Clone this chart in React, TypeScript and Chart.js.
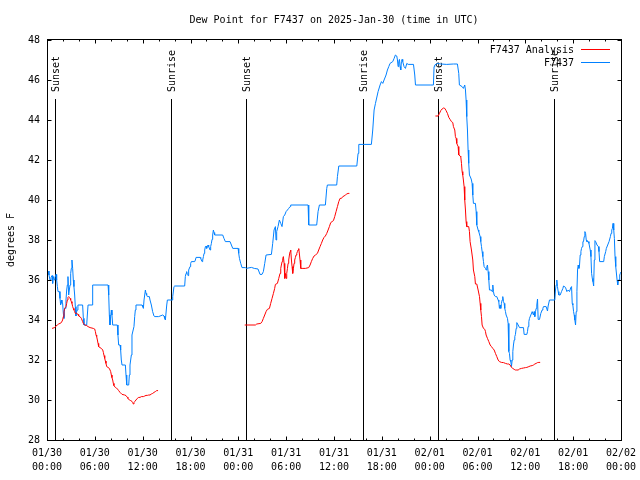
import React, { useEffect, useRef } from "react";
import { Chart, registerables } from "chart.js";

Chart.register(...registerables);

// ---------- text ----------
const TITLE = "Dew Point for F7437 on 2025-Jan-30 (time in UTC)";
const Y_LABEL = "degrees F";
const SERIES_NAMES = ["F7437 Analysis", "F7437"];
const DATE_LABELS = ["01/30", "01/30", "01/30", "01/30", "01/31", "01/31", "01/31", "01/31", "02/01", "02/01", "02/01", "02/01", "02/02"];
const TIME_LABELS = ["00:00", "06:00", "12:00", "18:00", "00:00", "06:00", "12:00", "18:00", "00:00", "06:00", "12:00", "18:00", "00:00"];

// ---------- sun events (hours since 01/30 00:00 UTC) ----------
const SUN_HOURS = [0.95, 15.6, 24.97, 39.68, 49.1, 63.65];
const SUN_LABELS = ["Sunset", "Sunrise", "Sunset", "Sunrise", "Sunset", "Sunrise"];

// ---------- F7437 observations (blue) ----------
const blueHoursDay1 = [0.13, 0.25, 0.38, 0.5, 0.63, 0.71, 0.79, 0.92, 1.0, 1.13, 1.21, 1.3, 1.38, 1.55, 1.63, 1.71, 1.8, 1.88, 1.96, 2.05, 2.13, 2.21, 2.3, 2.38, 2.47, 2.55, 2.63, 2.72, 2.8, 2.89, 2.97, 3.05, 3.13, 3.22, 3.3, 3.38, 3.47, 3.55, 3.63, 3.72, 3.8, 3.88, 4.47, 4.56, 4.64, 4.98, 5.06, 5.15, 5.65, 5.73, 7.66, 7.74, 7.82, 7.9, 7.99, 8.07, 8.15, 8.24, 8.82, 8.9, 8.99, 9.16, 9.24, 9.32, 9.41, 9.83, 9.91, 10.0, 10.25, 10.33, 10.41, 10.58, 10.66, 10.91, 11.0, 11.08, 11.16, 11.92, 12.0, 12.09, 12.17, 12.34, 12.42, 12.5, 12.59, 12.84, 12.92, 13.09, 13.25, 13.42, 13.5, 14.0, 14.51, 14.68, 14.76, 14.85, 15.02, 15.1, 15.68, 15.77, 15.93, 16.02, 17.27, 17.35, 17.44, 17.52, 17.6, 17.69, 17.77, 17.94, 18.02, 18.11, 18.53, 18.61, 18.7, 19.2, 19.28, 19.36, 19.45, 19.53, 19.62, 19.7, 19.78, 19.87, 19.95, 20.03, 20.12, 20.2, 20.28, 20.45, 20.53, 20.62, 20.7, 20.78, 20.87, 20.95, 21.03, 22.04, 22.2, 22.37, 22.96, 23.13, 23.3, 23.97, 24.05, 24.14];
const blueDewDay1 = [36.45, 36.25, 36.0, 36.13, 36.22, 35.83, 36.17, 36.0, 36.13, 36.28, 36.0, 35.67, 35.42, 35.42, 35.08, 34.75, 35.0, 34.83, 34.83, 34.33, 34.08, 34.58, 34.58, 35.0, 35.5, 35.75, 36.17, 35.25, 35.5, 35.75, 36.33, 36.58, 37.0, 36.58, 36.0, 35.67, 35.25, 34.67, 34.2, 34.42, 34.5, 34.75, 34.75, 34.08, 33.75, 33.75, 34.25, 34.75, 34.75, 35.75, 35.75, 35.25, 34.25, 33.75, 34.17, 34.5, 34.25, 33.75, 33.75, 33.25, 32.75, 32.75, 32.5, 32.0, 31.75, 31.75, 31.25, 30.75, 30.75, 31.25, 31.75, 32.25, 33.25, 33.67, 34.17, 34.5, 34.75, 34.75, 34.67, 34.58, 35.0, 35.5, 35.33, 35.25, 35.17, 35.17, 35.0, 34.75, 34.42, 34.2, 34.17, 34.17, 34.25, 34.2, 34.08, 34.0, 34.75, 35.0, 35.0, 35.17, 35.67, 35.7, 35.7, 36.17, 36.33, 36.42, 36.28, 36.22, 36.5, 36.67, 36.83, 36.92, 36.92, 37.0, 37.13, 37.13, 37.08, 37.0, 36.92, 37.0, 37.17, 37.33, 37.5, 37.67, 37.7, 37.58, 37.67, 37.75, 37.67, 37.5, 37.67, 37.83, 38.03, 38.25, 38.5, 38.37, 38.25, 38.25, 38.08, 37.92, 37.92, 37.75, 37.58, 37.58, 37.33, 37.08];

const blueHoursDay2 = [24.3, 24.46, 24.88, 25.0, 25.64, 26.0, 26.47, 26.72, 26.97, 27.14, 27.31, 27.48, 28.15, 28.31, 28.48, 28.65, 28.73, 28.81, 28.98, 29.15, 29.32, 29.48, 29.65, 29.82, 29.99, 30.16, 30.32, 30.49, 30.57, 32.75, 32.83, 33.83, 34.0, 34.17, 34.92, 35.09, 35.17, 36.34, 36.43, 36.6, 38.86, 39.02, 39.11, 40.69, 40.86, 41.03, 41.2, 41.53, 41.78, 41.95, 42.12, 42.28, 42.53, 42.7, 42.87, 43.03, 43.37, 43.54, 43.7, 43.87, 43.96, 44.04, 44.12, 44.21, 44.29, 44.37, 44.46, 44.54, 44.62, 44.79, 44.96, 45.13, 45.3, 45.97, 46.13, 46.22, 48.06];
const blueDewDay2 = [36.83, 36.62, 36.62, 36.58, 36.63, 36.58, 36.55, 36.28, 36.28, 36.42, 36.83, 37.25, 37.28, 37.83, 38.5, 38.67, 38.0, 38.42, 38.67, 39.0, 38.83, 38.67, 39.17, 39.25, 39.42, 39.5, 39.58, 39.67, 39.75, 39.75, 38.75, 38.75, 39.42, 39.75, 39.75, 40.58, 40.75, 40.75, 41.17, 41.7, 41.7, 42.33, 42.78, 42.78, 43.5, 44.5, 44.83, 45.42, 45.75, 45.92, 45.83, 46.0, 46.25, 46.5, 46.67, 46.83, 46.92, 47.08, 47.25, 47.2, 47.0, 46.67, 46.92, 47.03, 46.67, 46.5, 46.92, 47.03, 46.92, 46.67, 46.58, 46.83, 46.78, 46.78, 46.25, 45.75, 45.75];

const blueHoursDay3 = [48.47, 48.55, 48.64, 48.97, 49.39, 50.14, 50.98, 51.48, 51.65, 51.73, 52.07, 52.23, 52.4, 52.49, 52.57, 52.65, 52.74, 52.82, 52.9, 52.99, 53.16, 53.24, 53.32, 53.41, 53.49, 53.74, 53.83, 53.91, 54.08, 54.16, 54.33, 54.41, 54.5, 54.58, 54.67, 54.75, 54.83, 55.0, 55.08, 55.17, 55.25, 55.33, 55.42, 55.5, 55.75, 55.84, 55.92, 56.0, 56.09, 56.25, 56.42, 56.59, 56.67, 56.75, 56.84, 56.92, 57.0, 57.09, 57.17, 57.26, 57.34, 57.42, 57.51, 57.59, 57.76, 57.84, 57.93, 58.01, 58.09, 58.18, 58.26, 58.35, 58.43, 58.51, 58.6, 58.68, 58.76, 58.85, 58.93, 59.1, 59.27, 59.77, 59.85, 60.19, 60.27, 60.35, 60.44, 60.52, 60.69, 60.86, 61.02, 61.11, 61.19, 61.27, 61.36, 61.44, 61.53, 61.61, 61.78, 61.94, 62.11, 62.2, 62.28, 62.61, 62.78, 62.86, 63.03, 63.7, 63.78, 63.87, 63.95, 64.03, 64.12, 64.2, 64.37, 64.54, 64.71, 64.79, 65.04, 65.21, 65.38, 65.54, 65.71, 65.8, 65.88, 65.96, 66.05, 66.13, 66.21, 66.3, 66.38, 66.47, 66.55, 66.63, 66.72, 66.8, 66.88, 66.97, 67.05, 67.14, 67.22, 67.3, 67.39, 67.47, 67.56, 67.64, 67.72, 67.89, 67.98, 68.14, 68.23, 68.31, 68.4, 68.48, 68.57, 68.65, 68.73, 68.82, 68.99, 69.16, 69.24, 69.32, 69.83, 69.91, 70.08, 70.16, 70.33, 70.5, 70.67, 70.75, 70.84, 70.92, 71.0, 71.09, 71.17, 71.25, 71.34, 71.51, 71.59, 71.67, 71.76, 71.84, 71.92, 72.0];
const blueDewDay3 = [45.75, 46.67, 46.75, 46.83, 46.8, 46.78, 46.8, 46.8, 46.33, 45.75, 45.67, 45.58, 45.75, 45.5, 45.0, 44.17, 43.5, 42.5, 41.83, 41.25, 41.1, 41.0, 40.83, 40.25, 39.83, 39.83, 39.42, 38.75, 38.5, 38.42, 38.17, 37.92, 37.67, 37.42, 37.17, 36.92, 36.67, 36.58, 36.5, 36.67, 36.75, 36.42, 36.0, 35.5, 35.5, 35.42, 35.75, 35.42, 35.25, 35.17, 35.17, 35.0, 34.92, 34.58, 34.75, 34.58, 34.83, 35.0, 35.17, 34.92, 34.83, 34.58, 34.42, 34.25, 34.08, 33.83, 32.42, 32.33, 32.0, 31.92, 31.67, 32.0, 32.42, 32.75, 33.0, 33.17, 33.28, 33.58, 33.87, 33.75, 33.62, 33.62, 33.28, 33.28, 33.42, 33.67, 33.92, 34.08, 34.25, 34.42, 34.25, 34.42, 34.17, 34.42, 34.58, 34.75, 35.05, 34.03, 34.03, 34.33, 34.5, 34.58, 34.67, 34.67, 34.45, 34.7, 35.0, 35.0, 35.5, 35.75, 36.0, 35.67, 35.42, 35.25, 35.25, 35.42, 35.58, 35.7, 35.63, 35.42, 35.5, 35.42, 35.63, 35.67, 34.83, 34.75, 34.42, 34.25, 34.0, 33.75, 34.42, 35.42, 36.5, 36.75, 36.58, 36.75, 37.25, 37.42, 37.58, 37.67, 37.92, 37.92, 38.17, 38.42, 38.33, 38.0, 37.92, 37.92, 37.83, 37.5, 37.17, 36.33, 36.08, 35.92, 35.7, 37.0, 37.97, 37.92, 37.75, 37.67, 37.42, 36.92, 36.92, 37.17, 37.42, 37.58, 37.75, 37.92, 38.17, 38.33, 38.5, 38.58, 38.83, 38.5, 38.08, 37.17, 36.67, 36.0, 35.75, 36.0, 36.0, 36.25, 36.33, 36.4];

// ---------- F7437 Analysis (red) ----------
const redHoursDay1 = [0.63, 0.96, 1.13, 1.3, 1.46, 1.63, 1.8, 1.96, 2.05, 2.13, 2.22, 2.38, 2.47, 2.55, 2.63, 2.72, 2.8, 2.89, 2.97, 3.05, 3.13, 3.22, 3.3, 3.38, 3.47, 3.55, 3.72, 3.89, 3.97, 4.14, 4.31, 4.47, 4.56, 4.72, 4.98, 5.15, 5.4, 5.81, 5.98, 6.07, 6.15, 6.23, 6.32, 6.4, 6.48, 6.65, 6.82, 6.99, 7.07, 7.15, 7.24, 7.32, 7.4, 7.49, 7.65, 7.82, 7.99, 8.07, 8.15, 8.24, 8.32, 8.4, 8.57, 8.74, 8.9, 8.99, 9.16, 9.41, 9.74, 9.91, 10.08, 10.16, 10.33, 10.5, 10.66, 10.75, 10.83, 10.91, 11.0, 11.16, 11.33, 11.5, 11.67, 11.83, 12.09, 12.26, 12.42, 12.59, 12.76, 12.92, 13.09, 13.26, 13.42, 13.59, 13.76, 13.93];
const redDewDay1 = [33.58, 33.62, 33.7, 33.75, 33.8, 33.83, 33.87, 34.0, 34.17, 34.42, 34.58, 34.67, 34.83, 35.0, 35.13, 35.17, 35.13, 35.08, 35.0, 34.92, 34.83, 34.67, 34.58, 34.5, 34.42, 34.33, 34.33, 34.28, 34.2, 34.17, 34.08, 33.92, 33.83, 33.75, 33.72, 33.67, 33.62, 33.58, 33.55, 33.42, 33.25, 33.17, 33.0, 32.83, 32.67, 32.62, 32.58, 32.5, 32.38, 32.22, 32.08, 31.95, 31.83, 31.67, 31.63, 31.58, 31.42, 31.25, 31.12, 31.0, 30.83, 30.72, 30.63, 30.58, 30.53, 30.47, 30.38, 30.28, 30.25, 30.22, 30.13, 30.08, 30.0, 29.97, 29.93, 29.87, 29.8, 29.87, 29.92, 30.0, 30.08, 30.13, 30.13, 30.17, 30.17, 30.2, 30.23, 30.23, 30.25, 30.25, 30.3, 30.33, 30.38, 30.42, 30.47, 30.47];

const redHoursDay2 = [24.8, 26.14, 26.31, 26.81, 26.98, 27.14, 27.31, 27.48, 27.64, 27.9, 28.06, 28.23, 28.4, 28.56, 28.65, 28.9, 29.07, 29.23, 29.32, 29.4, 29.49, 29.57, 29.65, 29.74, 29.82, 29.9, 29.99, 30.07, 30.16, 30.24, 30.32, 30.41, 30.49, 30.57, 30.66, 30.74, 30.82, 30.91, 30.99, 31.07, 31.16, 31.24, 31.33, 31.41, 31.49, 31.58, 31.66, 31.74, 31.83, 32.0, 32.41, 32.83, 33.0, 33.16, 33.33, 33.5, 33.67, 33.92, 34.08, 34.25, 34.42, 34.58, 34.75, 34.92, 35.09, 35.26, 35.42, 35.59, 35.76, 35.93, 36.09, 36.26, 36.43, 36.6, 36.76, 36.93, 37.1, 37.26, 37.43, 37.6, 37.76, 37.93];
const redDewDay2 = [33.75, 33.75, 33.8, 33.83, 33.92, 34.08, 34.25, 34.42, 34.53, 34.58, 34.83, 35.08, 35.33, 35.58, 35.78, 35.83, 36.08, 36.33, 36.58, 36.75, 36.92, 37.08, 37.17, 36.83, 36.08, 36.33, 36.08, 36.33, 36.58, 36.83, 37.0, 37.25, 37.42, 37.5, 37.0, 36.67, 36.33, 36.58, 36.83, 37.0, 37.13, 37.25, 37.33, 37.42, 37.5, 37.57, 37.3, 37.0, 36.58, 36.58, 36.58, 36.62, 36.75, 36.92, 37.08, 37.2, 37.25, 37.33, 37.5, 37.67, 37.83, 38.0, 38.13, 38.2, 38.33, 38.5, 38.67, 38.87, 38.92, 38.97, 39.17, 39.42, 39.67, 39.92, 40.08, 40.08, 40.17, 40.2, 40.25, 40.3, 40.33, 40.33];

const redHoursDay3 = [48.72, 49.06, 49.23, 49.39, 49.56, 49.73, 49.9, 50.06, 50.23, 50.4, 50.56, 50.73, 50.9, 50.98, 51.15, 51.23, 51.32, 51.4, 51.57, 51.65, 51.82, 51.9, 51.99, 52.07, 52.15, 52.23, 52.32, 52.4, 52.49, 52.57, 52.65, 52.9, 52.99, 53.07, 53.24, 53.41, 53.49, 53.66, 53.74, 53.91, 54.08, 54.25, 54.33, 54.41, 54.5, 54.58, 54.75, 54.92, 55.0, 55.08, 55.25, 55.42, 55.59, 55.75, 55.92, 56.09, 56.25, 56.42, 56.59, 56.75, 57.0, 57.26, 57.51, 57.76, 57.93, 58.09, 58.26, 58.43, 58.6, 58.76, 58.93, 59.1, 59.27, 59.52, 59.77, 60.02, 60.19, 60.44, 60.61, 60.86, 61.02, 61.19, 61.36, 61.53, 61.7, 61.86];
const redDewDay3 = [44.2, 44.2, 44.33, 44.47, 44.55, 44.6, 44.58, 44.47, 44.33, 44.13, 44.03, 43.92, 43.87, 43.67, 43.5, 43.17, 43.08, 42.83, 42.67, 42.25, 42.2, 42.17, 41.83, 41.42, 41.25, 41.0, 40.67, 40.0, 39.5, 38.92, 38.67, 38.67, 38.42, 37.92, 37.5, 37.0, 36.5, 36.17, 35.8, 35.8, 35.5, 35.17, 34.83, 34.5, 34.17, 33.75, 33.58, 33.53, 33.42, 33.25, 33.08, 32.92, 32.75, 32.67, 32.58, 32.5, 32.33, 32.17, 32.0, 31.92, 31.88, 31.87, 31.83, 31.8, 31.8, 31.75, 31.63, 31.58, 31.53, 31.5, 31.5, 31.5, 31.55, 31.58, 31.6, 31.62, 31.63, 31.67, 31.7, 31.72, 31.75, 31.8, 31.83, 31.87, 31.88, 31.88];

const RED = "#ff0000";
const BLUE = "#0080ff";
const FONT_FAMILY = "'DejaVu Sans Mono', 'Liberation Mono', monospace";
const FONT = `10px ${FONT_FAMILY}`;

function toPoints(hours: number[], values: number[]) {
  return hours.map((h, i) => ({ x: h, y: values[i] }));
}

const overlayPlugin = {
  id: "gnuplotOverlay",
  beforeDatasetsDraw(chart: any) {
    const { ctx, chartArea: a, scales } = chart;
    const xs = scales.x;
    ctx.save();
    ctx.strokeStyle = "#000";
    ctx.fillStyle = "#000";
    ctx.lineWidth = 1;
    ctx.font = FONT;
    SUN_HOURS.forEach((h, i) => {
      const px = Math.round(xs.getPixelForValue(h)) + 0.5;
      ctx.beginPath();
      ctx.moveTo(px, a.top + 59);
      ctx.lineTo(px, a.bottom);
      ctx.stroke();
      ctx.save();
      ctx.translate(px + 0.5, a.top + 52);
      ctx.rotate(-Math.PI / 2);
      ctx.textAlign = "left";
      ctx.textBaseline = "middle";
      ctx.fillText(SUN_LABELS[i], 0, 0);
      ctx.restore();
    });
    ctx.restore();
  },
  afterDraw(chart: any) {
    const { ctx, chartArea: a, scales } = chart;
    const xs = scales.x;
    const ys = scales.y;
    const L = Math.round(a.left) + 0.5;
    const R = Math.round(a.right) + 0.5;
    const T = Math.round(a.top) - 0.5;
    const B = Math.round(a.bottom) + 0.5;
    ctx.save();
    ctx.strokeStyle = "#000";
    ctx.lineWidth = 1;
    // border
    ctx.strokeRect(L, T, R - L, B - T);
    // x ticks (inward, bottom & top)
    ctx.beginPath();
    for (let h = 0; h <= 72; h += 2) {
      const px = Math.round(xs.getPixelForValue(h)) + 0.5;
      const len = h % 6 === 0 ? 4 : 2;
      ctx.moveTo(px, B);
      ctx.lineTo(px, B - len);
      ctx.moveTo(px, T);
      ctx.lineTo(px, T + len);
    }
    // y ticks (inward, left & right)
    for (let v = 28; v <= 48; v += 2) {
      const py = Math.round(ys.getPixelForValue(v)) + 0.5;
      ctx.moveTo(L, py);
      ctx.lineTo(L + 4, py);
      ctx.moveTo(R, py);
      ctx.lineTo(R - 4, py);
    }
    ctx.stroke();

    ctx.fillStyle = "#000";
    ctx.font = FONT;
    // title
    ctx.textAlign = "center";
    ctx.textBaseline = "middle";
    ctx.fillText(TITLE, (a.left + a.right) / 2, a.top - 20);
    // y axis label
    ctx.save();
    ctx.translate(11.5, (a.top + a.bottom) / 2);
    ctx.rotate(-Math.PI / 2);
    ctx.fillText(Y_LABEL, 0, 0);
    ctx.restore();
    // legend
    const colors = [RED, BLUE];
    SERIES_NAMES.forEach((name, i) => {
      const y = a.top + 10 + i * 13;
      ctx.fillStyle = "#000";
      ctx.textAlign = "right";
      ctx.fillText(name, a.right - 47, y);
      ctx.strokeStyle = colors[i];
      ctx.beginPath();
      ctx.moveTo(a.right - 40, Math.round(y) - 0.5);
      ctx.lineTo(a.right - 11, Math.round(y) - 0.5);
      ctx.stroke();
    });
    ctx.restore();
  },
};

export default function App() {
  const canvasRef = useRef<HTMLCanvasElement | null>(null);

  useEffect(() => {
    document.body.style.margin = "0";
    const canvas = canvasRef.current;
    if (!canvas) return;

    const redData = [
      ...toPoints(redHoursDay1, redDewDay1),
      { x: 19, y: null },
      ...toPoints(redHoursDay2, redDewDay2),
      { x: 43, y: null },
      ...toPoints(redHoursDay3, redDewDay3),
    ];
    const blueData = [
      ...toPoints(blueHoursDay1, blueDewDay1),
      ...toPoints(blueHoursDay2, blueDewDay2),
      ...toPoints(blueHoursDay3, blueDewDay3),
    ];

    const chart = new Chart(canvas, {
      type: "line",
      data: {
        datasets: [
          {
            label: SERIES_NAMES[0],
            data: redData as any,
            borderColor: RED,
            borderWidth: 1,
            pointRadius: 0,
            tension: 0,
            spanGaps: false,
            fill: false,
          },
          {
            label: SERIES_NAMES[1],
            data: blueData as any,
            borderColor: BLUE,
            borderWidth: 1,
            pointRadius: 0,
            tension: 0,
            fill: false,
          },
        ],
      },
      options: {
        animation: false,
        responsive: false,
        devicePixelRatio: 1,
        layout: { padding: { top: 40, right: 19, left: 0, bottom: 0 } },
        plugins: {
          legend: { display: false },
          tooltip: { enabled: false },
          title: { display: false },
        },
        scales: {
          x: {
            type: "linear",
            min: 0,
            max: 72,
            afterFit: (s: any) => {
              s.height = 40;
              s.paddingLeft = 0;
              s.paddingRight = 0;
            },
            afterBuildTicks: (s: any) => {
              s.ticks = [];
              for (let h = 0; h <= 72; h += 6) s.ticks.push({ value: h });
            },
            ticks: {
              autoSkip: false,
              maxRotation: 0,
              minRotation: 0,
              padding: 6,
              color: "#000",
              font: { family: FONT_FAMILY, size: 10, lineHeight: 1.4 },
              callback: (v: any) => {
                const i = Math.round(Number(v) / 6);
                return [DATE_LABELS[i], TIME_LABELS[i]];
              },
            },
            grid: { display: false, drawTicks: false },
            border: { display: false },
          },
          y: {
            type: "linear",
            min: 28,
            max: 48,
            afterFit: (s: any) => {
              s.width = 47;
              s.paddingTop = 0;
              s.paddingBottom = 0;
            },
            ticks: {
              stepSize: 2,
              padding: 7,
              color: "#000",
              font: { family: FONT_FAMILY, size: 10 },
            },
            grid: { display: false, drawTicks: false },
            border: { display: false },
          },
        },
      } as any,
      plugins: [overlayPlugin],
    });

    return () => chart.destroy();
  }, []);

  return (
    <div style={{ width: 640, height: 480, background: "#fff" }}>
      <canvas ref={canvasRef} width={640} height={480} style={{ display: "block" }} />
    </div>
  );
}
